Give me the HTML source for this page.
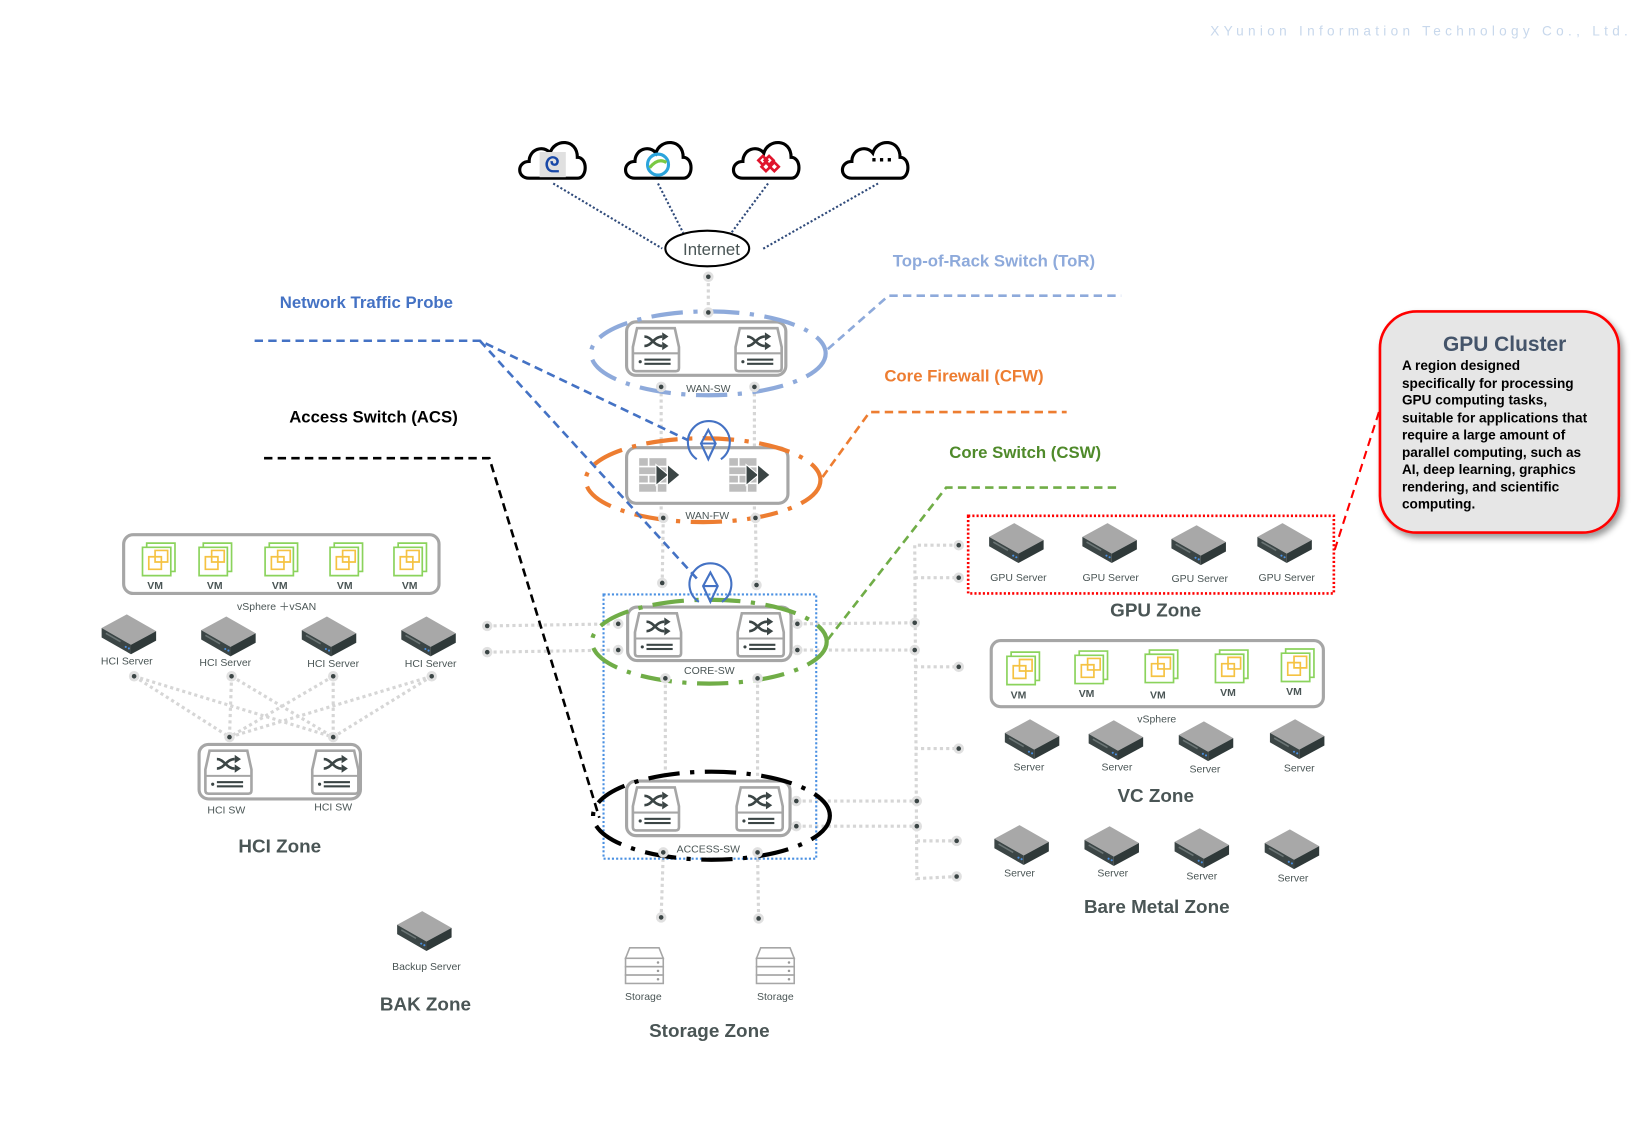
<!DOCTYPE html>
<html><head><meta charset="utf-8">
<style>
html,body{margin:0;padding:0;background:#fff;}
svg{display:block;}
text{font-family:"Liberation Sans",sans-serif;}
</style></head>
<body>
<svg width="1644" height="1125" viewBox="0 0 1569 1073" preserveAspectRatio="none" xmlns="http://www.w3.org/2000/svg">
<defs>
  <g id="srv">
    <polygon points="-26,-4 -2,-17 26,-1 2,12" fill="#a8a8a8"/>
    <polygon points="-26,-4 2,12 2,21 -26,5" fill="#3b4545"/>
    <polygon points="2,12 26,-1 26,8 2,21" fill="#2f3939"/>
    <line x1="-22" y1="1" x2="-8" y2="9" stroke="#6b7575" stroke-width="1.5"/>
    <circle cx="-3" cy="14" r="1" fill="#4a90e2"/><circle cx="0" cy="15.5" r="1" fill="#4a90e2"/>
  </g>
  <g id="sw">
    <path d="M-18,-20 H18 L22,-2 V18 Q22,21 19,21 H-19 Q-22,21 -22,18 V-2 Z" fill="#fff" stroke="#a6a6a6" stroke-width="2.5"/>
    <line x1="-22" y1="4" x2="22" y2="4" stroke="#a6a6a6" stroke-width="2"/>
    <path d="M-11,-12 C-4,-12 -2,-3 6,-3 M-11,-3 C-4,-3 -2,-12 6,-12" stroke="#3b4545" stroke-width="2.5" fill="none"/>
    <polygon points="6,-16 12,-12 6,-8" fill="#3b4545"/><polygon points="6,-7 12,-3 6,1" fill="#3b4545"/>
    <circle cx="-15" cy="12" r="1.5" fill="#3b4545"/>
    <rect x="-11" y="9" width="25" height="2" fill="#3b4545"/><rect x="-11" y="13" width="25" height="2" fill="#3b4545"/>
  </g>
  <g id="fw">
    <rect x="-22" y="-16" width="26" height="32" fill="#bdbdbd"/>
    <path d="M-22,-8 H4 M-22,0 H4 M-22,8 H4 M-13,-16 V-8 M-5,-8 V0 M-13,0 V8 M-5,8 V16" stroke="#fff" stroke-width="1.5"/>
    <polygon points="-6,-10 6,0 -6,10" fill="#3b4545" stroke="#fff" stroke-width="1"/>
    <polygon points="5,-10 17,0 5,10" fill="#3b4545" stroke="#fff" stroke-width="1"/>
  </g>
  <g id="vm">
    <path d="M-12,-15 H15 V12 H-12 Z" fill="none" stroke="#8bd35c" stroke-width="1.6"/>
    <path d="M-16,-11 H11 V16 H-16 Z" fill="#fff" stroke="#8bd35c" stroke-width="1.6"/>
    <path d="M-4,-8 H8 V3 H-4 Z M-10,-2 H2 V10 H-10 Z" fill="none" stroke="#f5c242" stroke-width="1.6"/>
  </g>
  <g id="stor">
    <path d="M-14,-18 H14 L18,-8 H-18 Z" fill="#fff" stroke="#a6a6a6" stroke-width="1.5"/>
    <rect x="-18" y="-8" width="36" height="8" fill="#fff" stroke="#a6a6a6" stroke-width="1.5"/>
    <rect x="-18" y="0" width="36" height="8" fill="#fff" stroke="#a6a6a6" stroke-width="1.5"/>
    <rect x="-18" y="8" width="36" height="8" fill="#fff" stroke="#a6a6a6" stroke-width="1.5"/>
    <circle cx="13" cy="-4" r="1.2" fill="#999"/><circle cx="13" cy="4" r="1.2" fill="#999"/><circle cx="13" cy="12" r="1.2" fill="#999"/>
  </g>
  <g id="dot"><circle r="5" fill="#e0e0e0"/><circle r="2.2" fill="#3b4545"/></g>
  <path id="cloud" d="M-22,18 C-34,18 -34,2 -22,2 C-22,-10 -8,-14 -2,-6 C2,-20 24,-20 24,-2 C34,-2 34,18 24,18 Z" fill="#fff" stroke="#000" stroke-width="3"/>
  <filter id="sh"><feDropShadow dx="3" dy="4" stdDeviation="3" flood-opacity="0.4"/></filter>
</defs>

<text x="1155" y="34" font-size="13" fill="#c8d8ec" letter-spacing="4.1">XYunion Information Technology Co., Ltd.</text>

<g stroke="#2f4a7a" stroke-width="2" stroke-dasharray="2,2" fill="none">
  <line x1="528" y1="175" x2="632" y2="237"/>
  <line x1="628" y1="175" x2="652" y2="222"/>
  <line x1="733" y1="175" x2="698" y2="222"/>
  <line x1="838" y1="175" x2="727" y2="238"/>
</g>
<use href="#cloud" x="527" y="152"/>
<use href="#cloud" x="628" y="152"/>
<use href="#cloud" x="731" y="152"/>
<use href="#cloud" x="835" y="152"/>
<rect x="515" y="145" width="25" height="24" fill="#e0e0e0"/>
<text x="527" y="164" font-size="20" font-weight="bold" fill="#1848a8" text-anchor="middle">ᘓ</text>
<circle cx="628" cy="157" r="10" fill="none" stroke="#2ba4dc" stroke-width="3"/>
<path d="M620,160 Q628,150 636,155" stroke="#7ac943" stroke-width="3" fill="none"/>
<g fill="none" stroke="#e0142c" stroke-width="2.5"><rect x="725" y="150" width="6" height="6" transform="rotate(45 728 153)"/><rect x="731" y="150" width="6" height="6" transform="rotate(45 734 153)"/><rect x="728" y="156" width="6" height="6" transform="rotate(45 731 159)"/><rect x="736" y="156" width="6" height="6" transform="rotate(45 739 159)"/></g>
<text x="842" y="160" font-size="22" font-weight="bold" text-anchor="middle" fill="#000">···</text>

<ellipse cx="675" cy="237" rx="40" ry="17" fill="#fff" stroke="#000" stroke-width="2"/>
<text x="679" y="243" font-size="16" fill="#4a5555" text-anchor="middle">Internet</text>

<g stroke="#d6d6d6" stroke-width="3" stroke-dasharray="3,3" fill="none">
  <line x1="676" y1="264" x2="676" y2="298"/>
  <line x1="631" y1="369" x2="631" y2="494"/><line x1="720" y1="369" x2="720" y2="494"/>
  <line x1="633" y1="494" x2="632" y2="556"/><line x1="721" y1="494" x2="722" y2="558"/>
  <line x1="635" y1="647" x2="635" y2="770"/><line x1="723" y1="647" x2="723" y2="770"/>
  <line x1="633" y1="813" x2="631" y2="875"/><line x1="723" y1="813" x2="724" y2="876"/>
  <line x1="465" y1="597" x2="590" y2="595"/><line x1="465" y1="622" x2="590" y2="620"/>
  <line x1="761" y1="595" x2="873" y2="594"/><line x1="761" y1="620" x2="873" y2="620"/>
  <line x1="760" y1="764" x2="875" y2="764"/><line x1="760" y1="788" x2="875" y2="788"/>
  <polyline points="915,520 873,520 875,838 913,836"/>
  <line x1="873" y1="551" x2="915" y2="551"/><line x1="873" y1="636" x2="915" y2="636"/>
  <line x1="873" y1="714" x2="915" y2="714"/><line x1="875" y1="802" x2="913" y2="802"/>
  <line x1="128" y1="645" x2="219" y2="703"/><line x1="128" y1="645" x2="318" y2="703"/>
  <line x1="221" y1="645" x2="219" y2="703"/><line x1="221" y1="645" x2="318" y2="703"/>
  <line x1="318" y1="645" x2="219" y2="703"/><line x1="318" y1="645" x2="318" y2="703"/>
  <line x1="412" y1="645" x2="219" y2="703"/><line x1="412" y1="645" x2="318" y2="703"/>
</g>

<rect x="576" y="567" width="203" height="252" fill="none" stroke="#4a90e2" stroke-width="2" stroke-dasharray="2,2"/>

<rect x="598" y="307" width="152" height="51" rx="9" fill="#fff" stroke="#a6a6a6" stroke-width="3"/>
<use href="#sw" x="626" y="333"/><use href="#sw" x="724" y="333"/>
<text x="676" y="374" font-size="10" fill="#4a5555" text-anchor="middle">WAN-SW</text>
<ellipse cx="676" cy="337" rx="112" ry="40" fill="none" stroke="#8eaadb" stroke-width="4" stroke-dasharray="30,10,4,10"/>

<rect x="598" y="427" width="154" height="53" rx="9" fill="#fff" stroke="#a6a6a6" stroke-width="3"/>
<use href="#fw" x="632" y="453"/><use href="#fw" x="718" y="453"/>
<text x="675" y="495" font-size="10" fill="#4a5555" text-anchor="middle">WAN-FW</text>
<ellipse cx="671" cy="458" rx="112" ry="40" fill="none" stroke="#ed7d31" stroke-width="4" stroke-dasharray="30,10,4,10"/>

<rect x="599" y="579" width="156" height="51" rx="9" fill="#fff" stroke="#a6a6a6" stroke-width="3"/>
<use href="#sw" x="628" y="605"/><use href="#sw" x="726" y="605"/>
<text x="677" y="643" font-size="10" fill="#4a5555" text-anchor="middle">CORE-SW</text>
<ellipse cx="677" cy="612" rx="112" ry="40" fill="none" stroke="#70ad47" stroke-width="4" stroke-dasharray="30,10,4,10"/>

<rect x="598" y="745" width="156" height="52" rx="9" fill="#fff" stroke="#a6a6a6" stroke-width="3"/>
<use href="#sw" x="626" y="771"/><use href="#sw" x="725" y="771"/>
<text x="676" y="813" font-size="10" fill="#4a5555" text-anchor="middle">ACCESS-SW</text>
<ellipse cx="679" cy="778" rx="113" ry="42" fill="none" stroke="#000" stroke-width="4" stroke-dasharray="30,10,4,10"/>

<g>
<use href="#dot" x="676" y="264"/><use href="#dot" x="676" y="298"/>
<use href="#dot" x="631" y="369"/><use href="#dot" x="720" y="369"/>
<use href="#dot" x="633" y="494"/><use href="#dot" x="721" y="494"/>
<use href="#dot" x="632" y="556"/><use href="#dot" x="722" y="558"/>
<use href="#dot" x="590" y="595"/><use href="#dot" x="590" y="620"/>
<use href="#dot" x="761" y="595"/><use href="#dot" x="761" y="620"/>
<use href="#dot" x="465" y="597"/><use href="#dot" x="465" y="622"/>
<use href="#dot" x="635" y="647"/><use href="#dot" x="723" y="647"/>
<use href="#dot" x="760" y="764"/><use href="#dot" x="760" y="788"/>
<use href="#dot" x="633" y="813"/><use href="#dot" x="723" y="813"/>
<use href="#dot" x="631" y="875"/><use href="#dot" x="724" y="876"/>
<use href="#dot" x="873" y="594"/><use href="#dot" x="873" y="620"/>
<use href="#dot" x="875" y="764"/><use href="#dot" x="875" y="788"/>
<use href="#dot" x="915" y="520"/><use href="#dot" x="915" y="551"/><use href="#dot" x="915" y="636"/>
<use href="#dot" x="915" y="714"/><use href="#dot" x="913" y="802"/><use href="#dot" x="913" y="836"/>
<use href="#dot" x="128" y="645"/><use href="#dot" x="221" y="645"/><use href="#dot" x="318" y="645"/><use href="#dot" x="412" y="645"/>
<use href="#dot" x="219" y="703"/><use href="#dot" x="318" y="703"/>
</g>

<g fill="none" stroke-width="2.5" stroke-dasharray="8,5">
  <polyline points="790,333 848,282 1070,282" stroke="#8eaadb"/>
  <polyline points="785,455 830,393 1018,393" stroke="#ed7d31"/>
  <polyline points="790,610 903,465 1068,465" stroke="#70ad47"/>
  <polyline points="243,325 458,325 657,420" stroke="#4472c4"/>
  <polyline points="458,325 668,555" stroke="#4472c4"/>
  <polyline points="252,437 467,437 572,780" stroke="#000"/>
  <polyline points="1316,393 1273,527" stroke="#ff0000" stroke-width="2"/>
</g>

<g fill="none" stroke="#4472c4" stroke-width="2">
  <path d="M665,438 A20,20 0 1 1 688,438"/>
  <path d="M676,410 L683,423 L676,438 L669,423 Z M669,423 H683"/>
  <path d="M667,574 A20,20 0 1 1 689,574"/>
  <path d="M678,546 L685,559 L678,574 L671,559 Z M671,559 H685"/>
</g>

<g font-weight="bold" font-size="16" font-family="DejaVu Sans Condensed, Liberation Sans, sans-serif">
<text x="852" y="254" fill="#8eaadb">Top-of-Rack Switch (ToR)</text>
<text x="267" y="294" fill="#4472c4">Network Traffic Probe</text>
<text x="844" y="364" fill="#ed7d31">Core Firewall (CFW)</text>
<text x="906" y="437" fill="#4f8a2a">Core Switch (CSW)</text>
<text x="276" y="403" fill="#000">Access Switch (ACS)</text>
</g>

<rect x="118" y="510" width="301" height="56" rx="9" fill="#fff" stroke="#a6a6a6" stroke-width="3"/>
<g font-size="10" font-weight="bold" fill="#4a5555" text-anchor="middle">
<use href="#vm" x="152" y="533"/><text x="148" y="562">VM</text>
<use href="#vm" x="206" y="533"/><text x="205" y="562">VM</text>
<use href="#vm" x="269" y="533"/><text x="267" y="562">VM</text>
<use href="#vm" x="331" y="533"/><text x="329" y="562">VM</text>
<use href="#vm" x="392" y="533"/><text x="391" y="562">VM</text>
</g>
<text x="264" y="582" font-size="10" fill="#4a5555" text-anchor="middle">vSphere ＋vSAN</text>
<g font-size="10" fill="#4a5555" text-anchor="middle">
<use href="#srv" x="123" y="603"/><text x="121" y="634">HCI Server</text>
<use href="#srv" x="218" y="605"/><text x="215" y="635">HCI Server</text>
<use href="#srv" x="314" y="605"/><text x="318" y="636">HCI Server</text>
<use href="#srv" x="409" y="605"/><text x="411" y="636">HCI Server</text>
<text x="216" y="776">HCI SW</text><text x="318" y="773">HCI SW</text>
<use href="#srv" x="405" y="886"/><text x="407" y="925">Backup Server</text>
<text x="614" y="954">Storage</text><text x="740" y="954">Storage</text>
</g>
<rect x="190" y="710" width="154" height="52" rx="9" fill="#fff" stroke="#a6a6a6" stroke-width="3"/>
<use href="#sw" x="218" y="736"/><use href="#sw" x="320" y="736"/>
<use href="#stor" x="615" y="922"/><use href="#stor" x="740" y="922"/>

<g font-size="18" font-weight="bold" fill="#4a5555" text-anchor="middle">
<text x="267" y="813">HCI Zone</text>
<text x="406" y="964">BAK Zone</text>
<text x="677" y="989">Storage Zone</text>
<text x="1103" y="588">GPU Zone</text>
<text x="1103" y="765">VC Zone</text>
<text x="1104" y="871">Bare Metal Zone</text>
</g>

<rect x="924" y="492" width="349" height="74" fill="none" stroke="#ff0000" stroke-width="2.5" stroke-dasharray="2,2"/>
<g font-size="10" fill="#4a5555" text-anchor="middle">
<use href="#srv" x="970" y="516"/><text x="972" y="554">GPU Server</text>
<use href="#srv" x="1059" y="516"/><text x="1060" y="554">GPU Server</text>
<use href="#srv" x="1144" y="518"/><text x="1145" y="555">GPU Server</text>
<use href="#srv" x="1226" y="516"/><text x="1228" y="554">GPU Server</text>
</g>

<rect x="946" y="611" width="317" height="63" rx="9" fill="#fff" stroke="#a6a6a6" stroke-width="3"/>
<g font-size="10" font-weight="bold" fill="#4a5555" text-anchor="middle">
<use href="#vm" x="977" y="637"/><text x="972" y="666">VM</text>
<use href="#vm" x="1042" y="636"/><text x="1037" y="665">VM</text>
<use href="#vm" x="1109" y="635"/><text x="1105" y="666">VM</text>
<use href="#vm" x="1176" y="635"/><text x="1172" y="664">VM</text>
<use href="#vm" x="1239" y="634"/><text x="1235" y="663">VM</text>
</g>
<g font-size="10" fill="#4a5555" text-anchor="middle">
<text x="1104" y="689">vSphere</text>
<use href="#srv" x="985" y="703"/><text x="982" y="735">Server</text>
<use href="#srv" x="1065" y="704"/><text x="1066" y="735">Server</text>
<use href="#srv" x="1151" y="705"/><text x="1150" y="737">Server</text>
<use href="#srv" x="1238" y="703"/><text x="1240" y="736">Server</text>
<use href="#srv" x="975" y="804"/><text x="973" y="836">Server</text>
<use href="#srv" x="1061" y="805"/><text x="1062" y="836">Server</text>
<use href="#srv" x="1147" y="807"/><text x="1147" y="839">Server</text>
<use href="#srv" x="1233" y="808"/><text x="1234" y="841">Server</text>
</g>

<rect x="1317" y="297" width="228" height="211" rx="35" fill="#e6e6e6" stroke="#ff0000" stroke-width="2.5" filter="url(#sh)"/>
<text x="1436" y="335" font-size="20" font-weight="bold" fill="#44546a" text-anchor="middle">GPU Cluster</text>
<g font-size="13" font-weight="bold" fill="#000">
<text x="1338" y="353">A  region designed</text>
<text x="1338" y="370">specifically for processing</text>
<text x="1338" y="386">GPU computing tasks,</text>
<text x="1338" y="403">suitable for applications that</text>
<text x="1338" y="419">require a large amount of</text>
<text x="1338" y="436">parallel computing, such as</text>
<text x="1338" y="452">AI,  deep learning, graphics</text>
<text x="1338" y="469">rendering, and scientific</text>
<text x="1338" y="485">computing.</text>
</g>
</svg>
</body></html>
